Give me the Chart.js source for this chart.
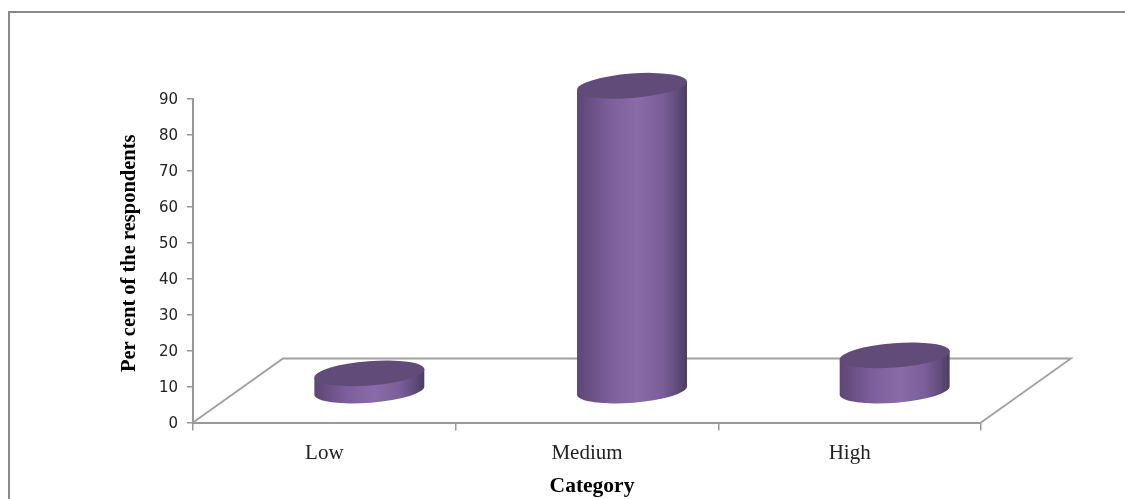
<!DOCTYPE html>
<html><head><meta charset="utf-8">
<style>html,body{margin:0;padding:0;background:#fff}#w{width:1125px;height:499px}canvas{display:block}</style>
<script src="https://cdn.jsdelivr.net/npm/chart.js@4/dist/chart.umd.js"></script>
</head><body><div id="w"><canvas id="c" width="1125" height="499"></canvas></div>
<script>
const categories = ["Low", "Medium", "High"];
const values = [5, 85, 10];
const yTitle = "Per cent of the respondents";
const xTitle = "Category";
const axisColor = "#999999";
const depthX = 90, depthY = 64;

const scene = {
  id: "scene",
  beforeDraw(chart) {
    const c = chart.ctx;
    c.save();
    c.fillStyle = "#fff";
    c.fillRect(0, 0, chart.width, chart.height);
    c.strokeStyle = "#8a8a8a";
    c.lineWidth = 2;
    c.beginPath();
    c.moveTo(9, chart.height);
    c.lineTo(9, 12);
    c.lineTo(chart.width, 12);
    c.stroke();
    c.restore();
  },
  beforeDatasetsDraw(chart) {
    const a = chart.chartArea, c = chart.ctx;
    c.save();
    c.strokeStyle = "#a0a0a0";
    c.lineWidth = 1.8;
    c.beginPath();
    c.moveTo(a.left, a.bottom);
    c.lineTo(a.left + depthX, a.bottom - depthY);
    c.lineTo(a.right + depthX, a.bottom - depthY);
    c.lineTo(a.right, a.bottom);
    c.stroke();
    c.restore();
    const meta = chart.getDatasetMeta(0);
    meta.data.forEach(bar => drawCylinder(c, bar));
    return false;
  }
};

function drawCylinder(c, bar) {
  const cx = bar.x + depthX / 2;
  const yb = bar.base - depthY / 2 + 0.8;
  const yt = bar.y - depthY / 2 + 0.8;
  const rx = bar.width / 2, ry = 12.2, rot = -0.078;
  const ex = Math.atan2(ry * Math.sin(rot), rx * Math.cos(rot));
  const dx = rx * Math.cos(ex) * Math.cos(rot) - ry * Math.sin(ex) * Math.sin(rot);
  const dy = rx * Math.cos(ex) * Math.sin(rot) + ry * Math.sin(ex) * Math.cos(rot);
  const g = c.createLinearGradient(cx - dx, 0, cx + dx, 0);
  g.addColorStop(0, "#5e4676");
  g.addColorStop(0.12, "#6a5085");
  g.addColorStop(0.3, "#7c5f9c");
  g.addColorStop(0.55, "#8a6ba9");
  g.addColorStop(0.78, "#7a5d99");
  g.addColorStop(0.92, "#5f4a78");
  g.addColorStop(1, "#4c3d5f");
  c.save();
  c.beginPath();
  c.ellipse(cx, yb, rx, ry, rot, Math.PI + ex, ex, true);
  c.lineTo(cx + dx, yt + dy);
  c.lineTo(cx - dx, yt - dy);
  c.closePath();
  c.fillStyle = g;
  c.fill();
  c.beginPath();
  c.ellipse(cx, yt, rx, ry, rot, 0, Math.PI * 2);
  c.fillStyle = "#614c79";
  c.fill();
  c.restore();
}

function shiftTitle(s, side, delta) {
  if (s.$shifted) return;
  s.$shifted = true;
  const d = s.drawTitle;
  s.drawTitle = function () { const v = this[side]; this[side] = v + delta; d.call(this); this[side] = v; };
}

new Chart(document.getElementById("c"), {
  type: "bar",
  data: { labels: categories, datasets: [{ data: values, backgroundColor: "#7c5f9c", barPercentage: 0.7, categoryPercentage: 0.6 }] },
  plugins: [scene],
  options: {
    responsive: false,
    animation: false,
    devicePixelRatio: 1,
    layout: { padding: { left: 117, top: 99, right: 144, bottom: 0 } },
    plugins: { legend: { display: false }, tooltip: { enabled: false } },
    scales: {
      y: {
        min: 0, max: 90,
        afterFit(s) { s.width = 76; },
        afterUpdate(s) { shiftTitle(s, "bottom", -15); },
        ticks: { stepSize: 10, color: "#222", padding: 9, labelOffset: 1.5, font: { family: "DejaVu Sans", size: 15 } },
        grid: { drawOnChartArea: false, color: axisColor, tickLength: 6, tickColor: axisColor, lineWidth: 1.5 },
        border: { color: axisColor, width: 2 },
        title: { display: true, text: yTitle, color: "#000", padding: 0, font: { family: "Liberation Serif", size: 20.5, weight: "bold" } }
      },
      x: {
        afterFit(s) { s.height = 76.5; },
        afterUpdate(s) { shiftTitle(s, "right", 10); },
        ticks: { color: "#222", padding: 10, font: { family: "Liberation Serif", size: 21 } },
        grid: { drawOnChartArea: false, color: axisColor, tickLength: 8, tickColor: axisColor, lineWidth: 1.5 },
        border: { color: axisColor, width: 2 },
        title: { display: true, text: xTitle, color: "#000", padding: { top: 0, bottom: 0 }, font: { family: "Liberation Serif", size: 21.5, weight: "bold" } }
      }
    }
  }
});
</script></body></html>
